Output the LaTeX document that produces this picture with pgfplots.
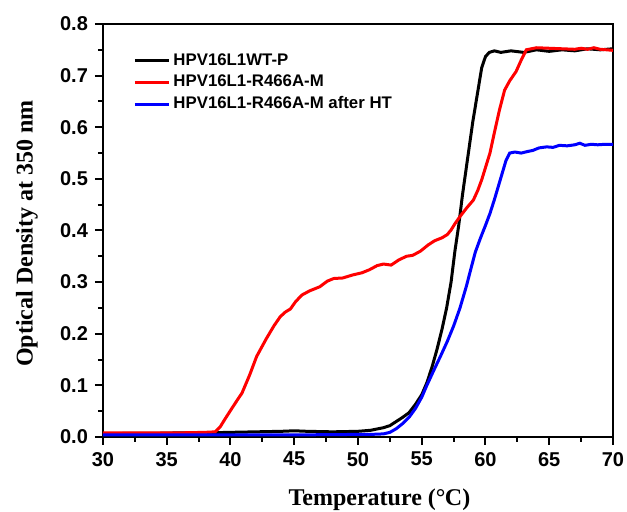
\documentclass[border=0pt]{standalone}
\usepackage{fontspec}
\setmainfont{Liberation Sans}
\newfontfamily\labelfont{Liberation Serif}
\usepackage{pgfplots}
\pgfplotsset{compat=1.18}

\begin{document}
\begin{tikzpicture}
\begin{axis}[name=ax, scale only axis, width=255pt, height=206.5pt,
  xmin=30, xmax=70, ymin=0, ymax=0.8,
  xtick={30,35,...,70}, ytick={0,0.1,...,0.8}, minor tick num=1,
  xtick pos=left, ytick pos=left, tick align=outside,
  major tick length=4pt, minor tick length=2.5pt,
  axis line style={line width=1pt}, every tick/.style={line width=1pt, black},
  /pgf/number format/assume math mode=true,
  ticklabel style={font=\bfseries\fontsize{10}{12}\selectfont},
  yticklabel style={/pgf/number format/fixed, /pgf/number format/fixed zerofill, /pgf/number format/precision=1},
  xlabel={Temperature (°\kern-0.3ptC)},
  ylabel={Optical Density at 350 nm},
  label style={font=\labelfont\bfseries\fontsize{12}{14}\selectfont},
  xlabel style={at={(axis description cs:0.542,-0.1525)}, anchor=center},
  ylabel style={at={(axis description cs:-0.149,0.493)}, anchor=center},
  legend style={draw=none, fill=none, at={(rel axis cs:0.059,0.937)}, anchor=north west,
    font=\bfseries\fontsize{8.4}{9.5}\selectfont, inner xsep=0pt, inner ysep=0pt,
    nodes={inner xsep=1.5pt, inner ysep=1.5pt}, row sep=0.4pt},
  legend cell align=left,
  legend image code/.code={\draw[#1, line width=1.5pt] (0pt,0pt) -- (17pt,0pt);},
  every axis plot/.append style={line width=1.5pt}]
\addplot[black] coordinates {
(30,0.006) (32,0.007) (34,0.007) (36,0.008) (38,0.008) (40,0.009) (42,0.010)
(44,0.011) (45,0.012) (46,0.011) (48,0.010) (50,0.011) (51,0.013) (52,0.018)
(52.5,0.022) (53,0.030) (53.5,0.038) (54,0.047) (54.5,0.063) (55,0.082)
(55.4,0.105) (55.8,0.135) (56.2,0.17) (56.6,0.21) (56.95,0.25) (57.3,0.30)
(57.6,0.36) (57.9,0.41) (58.2,0.47) (58.6,0.54) (59.0,0.61) (59.4,0.67)
(59.7,0.715) (60.0,0.737) (60.3,0.745) (60.7,0.748) (61.2,0.745) (62,0.748)
(63,0.745) (64,0.75) (65,0.747) (66,0.75) (67,0.748) (68,0.752) (69,0.75) (70,0.752)
};
\addlegendentry{HPV16L1WT-P}
\addplot[red] coordinates {
(30,0.008) (32,0.008) (34,0.008) (36,0.008) (38,0.009) (38.8,0.010) (39.2,0.02)
(39.6,0.036) (40.2,0.059) (40.6,0.074) (40.9,0.085) (41.5,0.12) (42.05,0.156)
(42.8,0.19) (43.4,0.215) (43.9,0.233) (44.3,0.242) (44.7,0.248) (45.1,0.262)
(45.6,0.275) (46.2,0.283) (47.0,0.291) (47.6,0.302) (48.1,0.307) (48.8,0.308)
(49.6,0.314) (50.3,0.318) (50.9,0.324) (51.5,0.332) (52.0,0.335) (52.6,0.333)
(53.2,0.343) (53.8,0.35) (54.3,0.352) (54.9,0.36) (55.5,0.372) (56.0,0.38)
(56.6,0.386) (57.0,0.392) (57.3,0.401) (57.6,0.413) (58.0,0.427) (58.5,0.443)
(59.05,0.459) (59.4,0.478) (59.7,0.498) (60.0,0.522) (60.35,0.55) (60.7,0.59)
(61.1,0.634) (61.5,0.672) (61.9,0.69) (62.4,0.708) (62.8,0.73) (63.2,0.75)
(63.6,0.752) (64,0.754) (65,0.753) (66,0.752) (67,0.751) (67.5,0.753) (68,0.751)
(68.5,0.754) (69,0.751) (69.5,0.75) (70,0.749)
};
\addlegendentry{HPV16L1-R466A-M}
\addplot[blue] coordinates {
(30,0.004) (35,0.004) (40,0.004) (45,0.004) (50,0.005) (51,0.005) (52,0.006)
(52.5,0.009) (53,0.016) (53.5,0.026) (54,0.038) (54.5,0.055) (55,0.077)
(55.4,0.10) (56,0.132) (56.5,0.158) (57,0.185) (57.5,0.215) (58.0,0.25)
(58.5,0.292) (58.9,0.33) (59.2,0.358) (59.6,0.385) (60.0,0.41) (60.35,0.433)
(60.7,0.46) (61.0,0.485) (61.3,0.51) (61.6,0.535) (61.9,0.55) (62.3,0.552)
(62.8,0.55) (63.3,0.553) (63.7,0.555) (64.2,0.56) (64.8,0.562) (65.3,0.561)
(65.8,0.565) (66.4,0.564) (67,0.566) (67.4,0.569) (67.8,0.565) (68.3,0.567)
(68.8,0.566) (69.4,0.567) (70,0.567)
};
\addlegendentry{HPV16L1-R466A-M after HT}
\end{axis}
\pgfresetboundingbox
\path ([shift={(-51.5pt,-37.5pt)}]ax.south west) rectangle ([shift={(7pt,12pt)}]ax.north east);
\end{tikzpicture}
\end{document}
